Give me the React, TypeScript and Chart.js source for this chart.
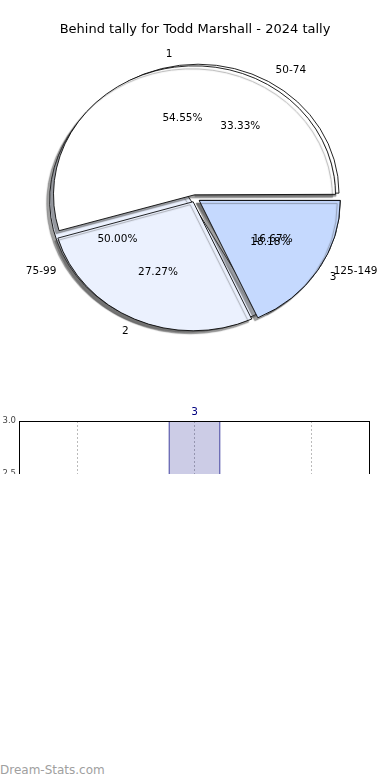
import React, { useEffect, useRef } from "react";
import { Chart, registerables } from "chart.js";

Chart.register(...registerables);

// ---- data ----
const TITLE = "Behind tally for Todd Marshall - 2024 tally";
const pieLabelsA = ["1", "2", "3"];
const pieValuesA = [6, 3, 2];
const pieLabelsB = ["50-74", "75-99", "125-149"];
const pieValuesB = [2, 3, 1];
const barCategories = ["50-74", "75-99", "125-149"];
const barValues = [2, 3, 1];
const WATERMARK = "Dream-Stats.com";

// ---- styles ----
const FONT = "DejaVu Sans";
const sliceColors = ["#ffffff", "#ebf1fe", "#c5d9fe"];
const explodeA = [3.5, 4.5, 5];
const explodeB = [6, 5, 5];
const R = 141;
const KY = 0.915;

const rev = <T,>(a: T[]): T[] => a.slice().reverse();

const pieSets = [
  { labels: pieLabelsA, values: pieValuesA, explode: explodeA },
  { labels: pieLabelsB, values: pieValuesB, explode: explodeB },
];

const pieShape = {
  id: "pieShape",
  beforeDatasetsDraw(chart: any) {
    chart.data.datasets.forEach((ds: any, d: number) => {
      const meta = chart.getDatasetMeta(d);
      meta.data.forEach((arc: any, j: number) => {
        const off = ds.offset[j] / 4;
        const c = arc.endAngle - arc.startAngle;
        const fix = 1 - Math.sin(Math.min(Math.PI, c));
        arc.innerRadius = 0;
        arc.outerRadius = R - off * fix;
      });
    });
    const ctx = chart.ctx;
    const a = chart.getDatasetMeta(0).data[0];
    ctx.save();
    ctx.translate(a.x, a.y);
    ctx.scale(1, KY);
    ctx.translate(-a.x, -a.y);
    ctx.shadowColor = "rgba(70,70,70,0.5)";
    ctx.shadowOffsetX = -3;
    ctx.shadowOffsetY = 3;
    ctx.shadowBlur = 1;
  },
  afterDatasetsDraw(chart: any) {
    const ctx = chart.ctx;
    ctx.restore();
    const a = chart.getDatasetMeta(0).data[0];
    const cx = a.x;
    const cy = a.y;
    ctx.save();
    ctx.font = `10.5px "${FONT}"`;
    ctx.fillStyle = "#000";
    ctx.textBaseline = "middle";
    pieSets.forEach((set, d) => {
      const meta = chart.getDatasetMeta(d);
      const n = set.values.length;
      const total = set.values.reduce((s, v) => s + v, 0);
      set.values.forEach((v, i) => {
        const arc = meta.data[n - 1 - i];
        const ang = (arc.startAngle + arc.endAngle) / 2;
        const t = set.explode[i];
        const ux = Math.cos(ang);
        const uy = Math.sin(ang);
        const lr = 1.1 * R + t;
        ctx.textAlign = ux > 0 ? "left" : "right";
        ctx.fillText(set.labels[i], cx + lr * ux, cy + KY * lr * uy);
        const pr = 0.6 * R + t;
        ctx.textAlign = "center";
        ctx.fillText(((v / total) * 100).toFixed(2) + "%", cx + pr * ux, cy + KY * pr * uy);
      });
    });
    ctx.restore();
  },
};

const barFrame = {
  id: "barFrame",
  afterDatasetsDraw(chart: any) {
    const ctx = chart.ctx;
    const meta = chart.getDatasetMeta(0);
    ctx.save();
    ctx.font = `10.5px "${FONT}"`;
    ctx.fillStyle = "#000080";
    ctx.textAlign = "center";
    ctx.textBaseline = "bottom";
    meta.data.forEach((bar: any, i: number) => {
      ctx.fillText(String(barValues[i]), bar.x, bar.y - 3);
    });
    ctx.restore();
  },
  afterDraw(chart: any) {
    const { ctx, chartArea: ca } = chart;
    ctx.save();
    ctx.strokeStyle = "#000";
    ctx.lineWidth = 1;
    ctx.strokeRect(Math.round(ca.left) + 0.5, Math.round(ca.top) + 0.5, ca.right - ca.left - 1, ca.bottom - ca.top);
    ctx.restore();
  },
};

export default function App() {
  const pieRef = useRef<HTMLCanvasElement>(null);
  const barRef = useRef<HTMLCanvasElement>(null);

  useEffect(() => {
    const pie = new Chart(pieRef.current as HTMLCanvasElement, {
      type: "pie",
      data: {
        labels: rev(pieLabelsA),
        datasets: pieSets.map((s) => ({
          data: rev(s.values),
          backgroundColor: rev(sliceColors),
          borderColor: "#000",
          borderWidth: 0.9,
          offset: rev(s.explode).map((v) => v * 4),
          radius: R,
        })) as any,
      },
      options: {
        responsive: false,
        animation: false,
        events: [],
        rotation: 90,
        layout: { padding: { top: 0, bottom: 21.6, left: 0, right: 0 } },
        plugins: {
          legend: { display: false },
          tooltip: { enabled: false },
          title: {
            display: true,
            text: TITLE,
            color: "#000",
            font: { family: FONT, size: 13, weight: "normal" },
            padding: { top: 22, bottom: 0 },
          },
        },
      } as any,
      plugins: [pieShape],
    });

    const bar = new Chart(barRef.current as HTMLCanvasElement, {
      type: "bar",
      data: {
        labels: barCategories,
        datasets: [
          {
            data: barValues,
            backgroundColor: "rgba(0,0,128,0.2)",
            borderColor: "#000080",
            borderWidth: 1,
            barPercentage: 0.444,
            categoryPercentage: 1,
          },
        ],
      },
      options: {
        responsive: false,
        animation: false,
        events: [],
        layout: { padding: { top: 21, right: 20, left: 0, bottom: 0 } },
        plugins: { legend: { display: false }, tooltip: { enabled: false } },
        scales: {
          x: {
            grid: { offset: false, color: "#bbbbbb", lineWidth: 1, drawTicks: false },
            border: { display: false, dash: [2, 2] },
            ticks: { font: { family: FONT, size: 10 }, color: "#333" },
            afterFit(s: any) {
              s.height = 31;
            },
          },
          y: {
            min: 0,
            max: 3,
            ticks: {
              stepSize: 0.5,
              callback: (v: any) => Number(v).toFixed(1),
              font: { family: FONT, size: 8.5 },
              color: "#444",
              padding: 3,
            },
            grid: { display: false, drawTicks: false },
            border: { display: false },
            afterFit(s: any) {
              s.width = 19;
            },
          },
        },
      } as any,
      plugins: [barFrame],
    });

    return () => {
      pie.destroy();
      bar.destroy();
    };
  }, []);

  return (
    <div style={{ position: "fixed", left: 0, top: 0, width: 390, height: 780, background: "#fff", overflow: "hidden" }}>
      <canvas ref={pieRef} width={390} height={380} style={{ position: "absolute", left: 0, top: 0 }} />
      <div style={{ position: "absolute", left: 0, top: 400, width: 390, height: 74, overflow: "hidden" }}>
        <canvas ref={barRef} width={390} height={370} style={{ position: "absolute", left: 0, top: 0 }} />
      </div>
      <div
        style={{
          position: "absolute",
          left: 0,
          top: 762,
          fontFamily: `"${FONT}"`,
          fontSize: 12,
          lineHeight: "16px",
          color: "#a0a0a0",
          whiteSpace: "nowrap",
        }}
      >
        {WATERMARK}
      </div>
    </div>
  );
}
